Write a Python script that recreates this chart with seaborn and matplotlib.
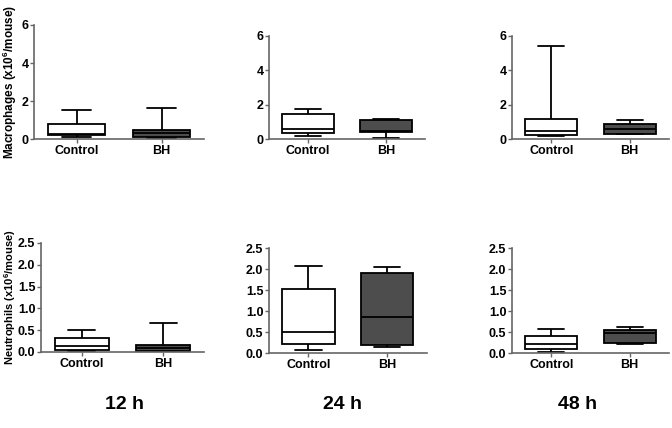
"""
Box plots: macrophages and neutrophils, Control vs BH, at 12 h, 24 h and 48 h
"""

import pandas as pd
import matplotlib
matplotlib.use("Agg")
import matplotlib.pyplot as plt
from matplotlib.ticker import FormatStrFormatter
import seaborn as sns

groups = ["Control", "BH"]
times = ["12 h", "24 h", "48 h"]

# five numbers per box: min, q1, median, q3, max (x10^6/mouse)
mac_control = {"12 h": [0.08, 0.20, 0.28, 0.78, 1.52],
               "24 h": [0.15, 0.35, 0.56, 1.45, 1.72],
               "48 h": [0.18, 0.25, 0.48, 1.16, 5.42]}
mac_bh = {"12 h": [0.05, 0.12, 0.30, 0.47, 1.65],
          "24 h": [0.08, 0.40, 0.45, 1.10, 1.18],
          "48 h": [0.28, 0.31, 0.56, 0.87, 1.10]}
neu_control = {"12 h": [0.02, 0.05, 0.145, 0.31, 0.50],
               "24 h": [0.06, 0.21, 0.50, 1.52, 2.07],
               "48 h": [0.02, 0.10, 0.22, 0.41, 0.58]}
neu_bh = {"12 h": [0.01, 0.02, 0.09, 0.17, 0.67],
          "24 h": [0.14, 0.18, 0.86, 1.91, 2.04],
          "48 h": [0.21, 0.23, 0.47, 0.54, 0.63]}

rows = []
for cell, ctrl, bh in [("mac", mac_control, mac_bh), ("neu", neu_control, neu_bh)]:
    for t in times:
        for v in ctrl[t]:
            rows.append((cell, t, "Control", v))
        for v in bh[t]:
            rows.append((cell, t, "BH", v))
df = pd.DataFrame(rows, columns=["cell", "time", "group", "value"])

sns.set_style("ticks")
plt.rcParams["font.family"] = ["Liberation Sans", "DejaVu Sans"]
plt.rcParams["font.weight"] = "bold"
plt.rcParams["text.color"] = "black"
plt.rcParams["axes.labelcolor"] = "black"
plt.rcParams["mathtext.fontset"] = "custom"
plt.rcParams["mathtext.rm"] = "Liberation Sans:bold"
plt.rcParams["mathtext.default"] = "rm"

fig = plt.figure(figsize=(6.72, 4.28), dpi=100)

# axes boxes in figure fractions
pos = {("mac", "12 h"): [0.0506, 0.6752, 0.253, 0.2664],
       ("mac", "24 h"): [0.4003, 0.6752, 0.2321, 0.2407],
       ("mac", "48 h"): [0.7619, 0.6752, 0.2336, 0.2407],
       ("neu", "12 h"): [0.0610, 0.1776, 0.2426, 0.2547],
       ("neu", "24 h"): [0.4003, 0.1752, 0.2350, 0.2453],
       ("neu", "48 h"): [0.7619, 0.1752, 0.2336, 0.2453]}

pal = {"Control": "white", "BH": "#4d4d4d"}
axcol = "#666666"

for (cell, t), p in pos.items():
    ax = fig.add_axes(p)
    sub = df[(df.cell == cell) & (df.time == t)]
    sns.boxplot(data=sub, x="group", y="value", hue="group", order=groups,
                palette=pal, whis=(0, 100), width=0.66, linecolor="black",
                linewidth=1.3, legend=False, dodge=False, ax=ax)
    ax.set_xlim(-0.5, 1.5)
    if cell == "mac":
        ax.set_ylim(0, 6)
        ax.set_yticks([0, 2, 4, 6])
        ax.yaxis.set_major_formatter(FormatStrFormatter("%d"))
    else:
        ax.set_ylim(0, 2.5)
        ax.set_yticks([0, 0.5, 1.0, 1.5, 2.0, 2.5])
        ax.yaxis.set_major_formatter(FormatStrFormatter("%.1f"))
    ax.set_xlabel("")
    ax.set_ylabel("")
    sns.despine(ax=ax)
    for s in ["left", "bottom"]:
        ax.spines[s].set_color(axcol)
        ax.spines[s].set_linewidth(1.2)
    ax.tick_params(axis="both", colors=axcol, length=3, width=1, labelcolor="black",
                   labelsize=9, pad=1)
    for lab in ax.get_xticklabels() + ax.get_yticklabels():
        lab.set_fontweight("bold")
    if t == "12 h":
        if cell == "mac":
            ax.set_ylabel("Macrophages (x10$^6$/mouse)", fontsize=8.5, fontweight="bold", labelpad=2)
        else:
            ax.set_ylabel("Neutrophils (x10$^6$/mouse)", fontsize=8, fontweight="bold", labelpad=0)

for x, t in zip([0.186, 0.509, 0.859], times):
    fig.text(x, 0.055, t, ha="center", va="center", fontsize=14, fontweight="bold")

fig.savefig("out.png", dpi=100)
